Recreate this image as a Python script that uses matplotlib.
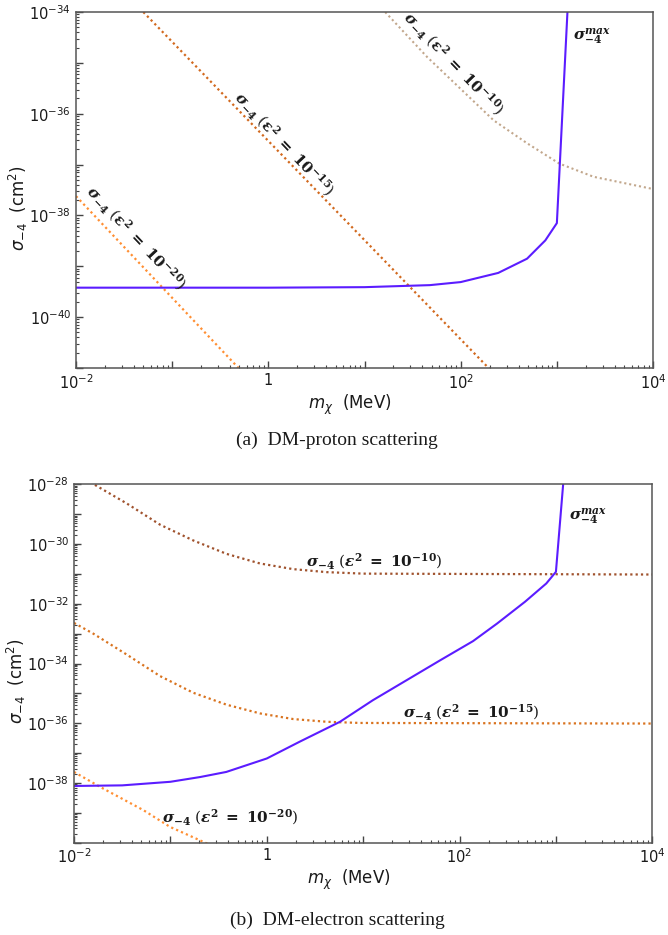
import matplotlib
matplotlib.use("Agg")
import matplotlib.pyplot as plt
import matplotlib.ticker as ticker
import numpy as np

# log10 values: mass in MeV, sigma in cm^2
# (a) DM-proton
p_max_m = [-2, 0, 1, 1.68, 2.0, 2.39, 2.69, 2.88, 3.0, 3.11]
p_max_s = [-39.42, -39.42, -39.41, -39.37, -39.31, -39.13, -38.85, -38.49, -38.15, -34.0]
p_e20_m = [-2, -0.31]
p_e20_s = [-37.62, -41.0]
p_e15_m = [-1.30, 2.30]
p_e15_s = [-34.0, -41.02]
p_e10_m = [1.215, 1.649, 2.343, 2.69, 3.026, 3.383, 4.0]
p_e10_s = [-34.0, -34.88, -36.13, -36.58, -36.98, -37.24, -37.48]

# (b) DM-electron
e_max_m = [-2, -1.5, -1.0, -0.69, -0.42, 0, 0.34, 0.76, 1.1, 1.45, 1.8, 2.14, 2.39, 2.68, 2.9, 3.0, 3.075]
e_max_s = [-38.10, -38.08, -37.96, -37.8, -37.63, -37.18, -36.62, -35.95, -35.23, -34.56, -33.89,
           -33.25, -32.66, -31.93, -31.32, -30.93, -28.0]
e_e10_m = [-1.783, -1.453, -1.108, -0.762, -0.416, -0.071, 0.275, 0.62, 1.0, 4.0]
e_e10_s = [-28.02, -28.64, -29.35, -29.88, -30.33, -30.65, -30.84, -30.94, -30.99, -31.02]
e_e15_m = [-2, -1.8, -1.453, -1.108, -0.762, -0.416, -0.071, 0.275, 0.62, 0.967, 4.0]
e_e15_s = [-32.64, -33.0, -33.7, -34.42, -34.98, -35.38, -35.67, -35.86, -35.95, -35.99, -36.01]
e_e20_m = [-2, -1.73, -1.28, -1.004, -0.659, -0.5]
e_e20_s = [-37.63, -38.13, -38.91, -39.47, -39.97, -40.2]

BLUE = '#5b1cff'
DOT = (0, (1, 1.4))
TXT = '#1a1a1a'


def lbl(eps, power):
    return (r'$\boldsymbol{\sigma}_{\mathbf{-4}}\ (\boldsymbol{' + eps + r'}^{\mathbf{2}}\ \mathbf{=}\ '
            r'\mathbf{10}^{\mathbf{-' + power + r'}})$')


SMAX = r'$\boldsymbol{\sigma}^{\boldsymbol{max}}_{\mathbf{-4}}$'


def make_fmt(skip):
    def fmt(v, pos):
        e = int(round(np.log10(v)))
        if e % 2 or e in skip:
            return ''
        if e == 0:
            return '1'
        return r'$10^{%d}$' % e
    return ticker.FuncFormatter(fmt)


def style(ax, ylo, yhi, yskip=()):
    ax.set_xscale('log')
    ax.set_yscale('log')
    ax.set_xlim(1e-2, 1e4)
    ax.set_ylim(10.0**ylo, 10.0**yhi)
    for a in (ax.xaxis, ax.yaxis):
        a.set_major_locator(ticker.LogLocator(base=10, numticks=30))
        a.set_minor_locator(ticker.LogLocator(base=10, subs=np.arange(2, 10), numticks=30))
        a.set_minor_formatter(ticker.NullFormatter())
    ax.xaxis.set_major_formatter(make_fmt(()))
    ax.yaxis.set_major_formatter(make_fmt(yskip))
    ax.tick_params(which='both', direction='in', top=False, right=False, colors='#444',
                   labelcolor=TXT, labelsize=10.5)
    ax.tick_params(which='major', length=5, width=1)
    ax.tick_params(which='minor', length=2.5, width=0.8)
    for s in ax.spines.values():
        s.set_color('#555')
        s.set_linewidth(1.1)
    ax.set_xlabel(r'$m_\chi$  (MeV)', fontsize=12, color=TXT)
    ax.set_ylabel(r'$\sigma_{-4}$  (cm$^2$)', fontsize=12, color=TXT)
    ax.xaxis.set_label_coords(0.475, -0.07)
    ax.yaxis.set_label_coords(-0.08, 0.45)


def line(ax, m, s, **kw):
    ax.plot(10.0**np.array(m), 10.0**np.array(s), **kw)


def put(ax, lx, ly, text, rot=0, ha='center'):
    ax.text(10.0**lx, 10.0**ly, text, fontsize=11, color=TXT, rotation=rot, ha=ha, va='center',
            rotation_mode='anchor', math_fontfamily='dejavuserif')


fig = plt.figure(figsize=(6.68, 9.35), dpi=100)

# (a) DM-proton scattering
ax1 = fig.add_axes([0.1138, 0.6064, 0.8638, 0.3807])
line(ax1, p_e10_m, p_e10_s, color='#c2a78c', lw=1.5, ls=DOT)
line(ax1, p_e15_m, p_e15_s, color='#d2691e', lw=1.6, ls=DOT)
line(ax1, p_e20_m, p_e20_s, color='#ff8f33', lw=1.6, ls=DOT)
line(ax1, p_max_m, p_max_s, color=BLUE, lw=1.5)
style(ax1, -41, -34)
put(ax1, -1.376, -38.43, lbl(r'\varepsilon', '20'), rot=-46.5)
put(ax1, 0.164, -36.6, lbl(r'\varepsilon', '15'), rot=-46.5)
put(ax1, 1.926, -35.01, lbl(r'\varepsilon', '10'), rot=-46)
put(ax1, 3.17, -34.5, SMAX, ha='left')
fig.text(0.505, 0.529, '(a)  DM-proton scattering', ha='center', va='center',
         fontsize=14, family='Liberation Serif', color=TXT)

# (b) DM-electron scattering
ax2 = fig.add_axes([0.1108, 0.0987, 0.8657, 0.3833])
line(ax2, e_e10_m, e_e10_s, color='#a0522d', lw=1.6, ls=DOT)
line(ax2, e_e15_m, e_e15_s, color='#d9731f', lw=1.6, ls=DOT)
line(ax2, e_e20_m, e_e20_s, color='#ff8f33', lw=1.6, ls=DOT)
line(ax2, e_max_m, e_max_s, color=BLUE, lw=1.5)
style(ax2, -40, -28, yskip=(-40,))
put(ax2, 0.41, -30.57, lbl(r'\epsilon', '10'), ha='left')
put(ax2, 1.416, -35.62, lbl(r'\epsilon', '15'), ha='left')
put(ax2, -1.09, -39.14, lbl(r'\epsilon', '20'), ha='left')
put(ax2, 3.14, -29.09, SMAX, ha='left')
fig.text(0.505, 0.016, '(b)  DM-electron scattering', ha='center', va='center',
         fontsize=14, family='Liberation Serif', color=TXT)

fig.savefig('out.png', dpi=100)
